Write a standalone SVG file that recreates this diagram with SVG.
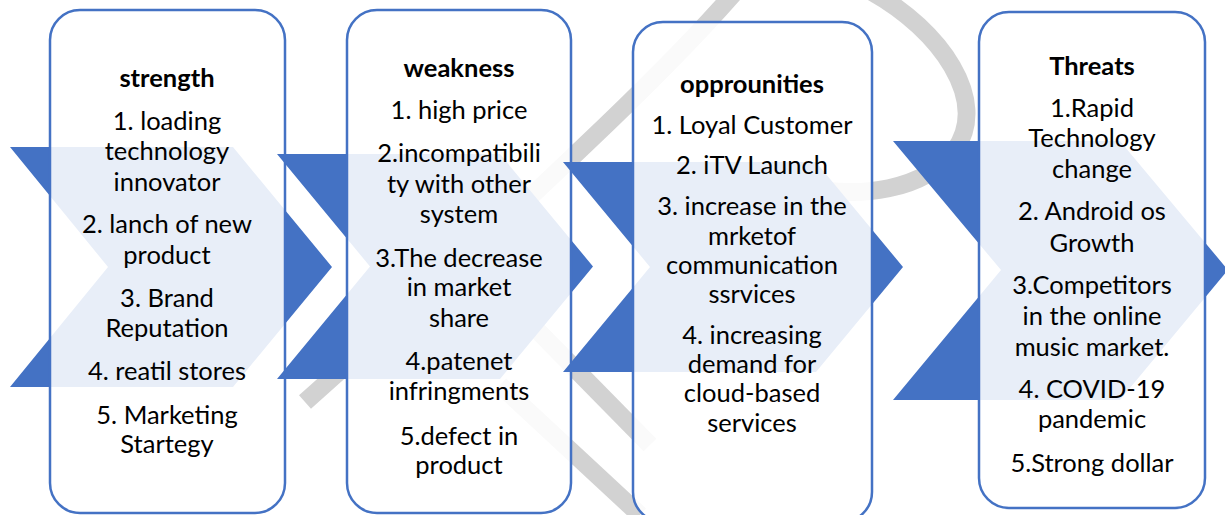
<svg xmlns="http://www.w3.org/2000/svg" width="1225" height="515" viewBox="0 0 1225 515">
<style>
.wm{fill:none;stroke:#d2d2d2;stroke-width:18;stroke-linecap:butt}
.chev{fill:#4472c4}
.card{fill:#ffffff;fill-opacity:0.88;stroke:#4472c4;stroke-width:2.5}
.t{font-family:Lato,"Liberation Sans",sans-serif;font-size:25.5px;fill:#000;text-anchor:middle}
.h{font-weight:bold}
</style>
<rect width="1225" height="515" fill="#ffffff"/>
<g id="watermark">
<path class="wm" d="M 305 402 Q 470 255 585 145 Q 680 55 735 -8"/>
<path class="wm" d="M 872 -8 C 940 30 990 100 955 150 C 925 190 860 200 800 186"/>
<path class="wm" d="M 480 272 L 650 445"/>
<path class="wm" d="M 500 385 L 640 515"/>
</g>
<g id="node-strength">
<polygon class="chev" points="10,147 233,147 332,267 233,387 10,387 108,267"/>
<rect class="card" x="50" y="10" width="235" height="503" rx="30"/>
<text class="t h" x="167" y="87">strength</text>
<text class="t" x="167" y="130">1. loading</text>
<text class="t" x="167" y="160">technology</text>
<text class="t" x="167" y="191">innovator</text>
<text class="t" x="167" y="233">2. lanch of new</text>
<text class="t" x="167" y="264">product</text>
<text class="t" x="167" y="307">3. Brand</text>
<text class="t" x="167" y="337">Reputation</text>
<text class="t" x="167" y="380">4. reatil stores</text>
<text class="t" x="167" y="424">5. Marketing</text>
<text class="t" x="167" y="453">Startegy</text>
</g>
<g id="node-weakness">
<polygon class="chev" points="277,154 500,154 593,266.5 500,379 277,379 370,266.5"/>
<rect class="card" x="347" y="10" width="224" height="503" rx="30"/>
<text class="t h" x="459" y="77">weakness</text>
<text class="t" x="459" y="119">1. high price</text>
<text class="t" x="459" y="162">2.incompatibili</text>
<text class="t" x="459" y="193">ty with other</text>
<text class="t" x="459" y="223">system</text>
<text class="t" x="459" y="267">3.The decrease</text>
<text class="t" x="459" y="296">in market</text>
<text class="t" x="459" y="327">share</text>
<text class="t" x="459" y="370">4.patenet</text>
<text class="t" x="459" y="400">infringments</text>
<text class="t" x="459" y="445">5.defect in</text>
<text class="t" x="459" y="474">product</text>
</g>
<g id="node-opportunities">
<polygon class="chev" points="563,162 816,162 903,267 816,372 563,372 650,267"/>
<rect class="card" x="633" y="22" width="239" height="500" rx="30"/>
<text class="t h" x="752" y="93">opprounities</text>
<text class="t" x="752" y="134">1. Loyal Customer</text>
<text class="t" x="752" y="174">2. iTV Launch</text>
<text class="t" x="752" y="215">3. increase in the</text>
<text class="t" x="752" y="245">mrketof</text>
<text class="t" x="752" y="274">communication</text>
<text class="t" x="752" y="303">ssrvices</text>
<text class="t" x="752" y="344">4. increasing</text>
<text class="t" x="752" y="373">demand for</text>
<text class="t" x="752" y="402">cloud-based</text>
<text class="t" x="752" y="432">services</text>
</g>
<g id="node-threats">
<polygon class="chev" points="893,141 1120,141 1228,270 1120,400 893,400 1001,270"/>
<rect class="card" x="979" y="12" width="226" height="496" rx="30"/>
<text class="t h" x="1092" y="75">Threats</text>
<text class="t" x="1092" y="117">1.Rapid</text>
<text class="t" x="1092" y="147">Technology</text>
<text class="t" x="1092" y="178">change</text>
<text class="t" x="1092" y="220">2. Android os</text>
<text class="t" x="1092" y="252">Growth</text>
<text class="t" x="1092" y="294">3.Competitors</text>
<text class="t" x="1092" y="325">in the online</text>
<text class="t" x="1092" y="356">music market.</text>
<text class="t" x="1092" y="398">4. COVID-19</text>
<text class="t" x="1092" y="428">pandemic</text>
<text class="t" x="1092" y="472">5.Strong dollar</text>
</g>
</svg>
